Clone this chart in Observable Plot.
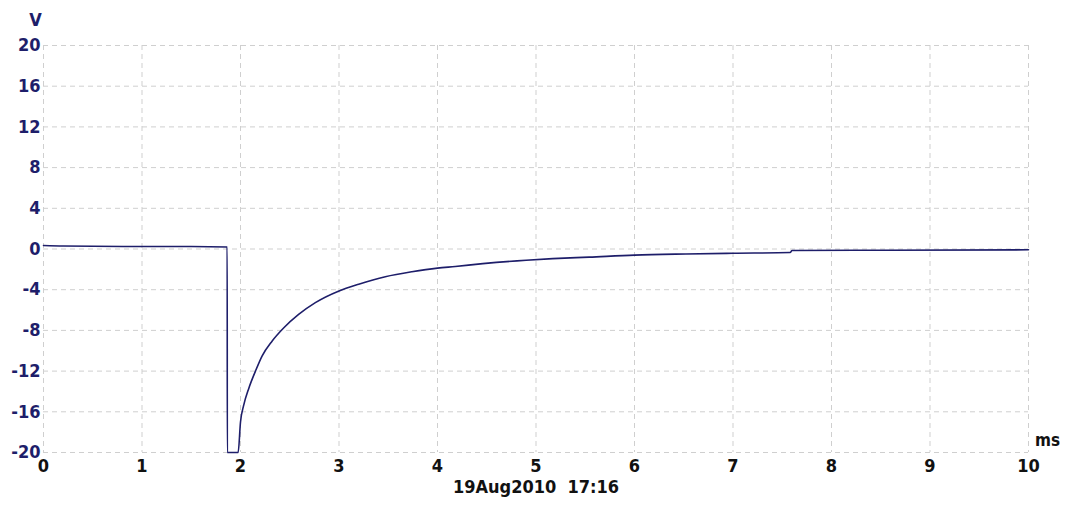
<!DOCTYPE html>
<html>
<head>
<meta charset="utf-8">
<script src="https://cdn.jsdelivr.net/npm/d3@7"></script>
<script src="https://cdn.jsdelivr.net/npm/@observablehq/plot@0.6"></script>
<style>
  html, body { margin: 0; padding: 0; background: #fff; }
</style>
</head>
<body>
<div id="chart"></div>
<script>
// Time (ms) and voltage (V)
const timeMs = [0, 0.2, 1.0, 1.5, 1.865, 1.866, 1.976, 2.0, 2.034, 2.084, 2.152, 2.22, 2.32, 2.44, 2.59, 2.76, 3.0, 3.2, 3.47, 3.74, 4.0, 4.18, 4.46, 4.9, 5.17, 5.54, 6.0, 6.52, 7.0, 7.58, 7.6, 8.5, 10.0];
const volts  = [0.35, 0.3, 0.25, 0.25, 0.2, -20, -20, -17.0, -15.3, -13.7, -12.0, -10.5, -9.06, -7.74, -6.43, -5.27, -4.12, -3.46, -2.73, -2.24, -1.88, -1.72, -1.44, -1.1, -0.95, -0.8, -0.6, -0.49, -0.42, -0.35, -0.15, -0.12, -0.08];
const xTicks = [0, 1, 2, 3, 4, 5, 6, 7, 8, 9, 10];
const yTicks = [20, 16, 12, 8, 4, 0, -4, -8, -12, -16, -20];
const yUnit = "V";
const xUnit = "ms";
const stamp = "19Aug2010  17:16";

const trace = timeMs.map((t, i) => ({t, v: volts[i]}));

const navy = "#1e1e6a";
const font = "'DejaVu Sans Condensed', 'DejaVu Sans', sans-serif";

const chart = Plot.plot({
  width: 1067,
  height: 514,
  marginLeft: 43,
  marginRight: 39,
  marginTop: 45,
  marginBottom: 62,
  style: {fontFamily: font, fontWeight: "bold", fontSize: "18px", background: "#fff", overflow: "visible"},
  x: {domain: [0, 10]},
  y: {domain: [-20, 20]},
  marks: [
    Plot.gridX(xTicks, {stroke: "#cfcfcf", strokeOpacity: 1, strokeDasharray: "5,4"}),
    Plot.gridY(yTicks, {stroke: "#cfcfcf", strokeOpacity: 1, strokeDasharray: "5,4"}),
    Plot.axisX(xTicks, {tickSize: 0, tickPadding: 7, label: null, fill: "#111", fontSize: 18, fontWeight: "bold", tickFormat: d => String(d)}),
    Plot.axisY(yTicks, {tickSize: 0, tickPadding: 3, label: null, fill: navy, fontSize: 18, fontWeight: "bold", tickFormat: d => String(d)}),
    Plot.line(trace, {x: "t", y: "v", stroke: navy, strokeWidth: 1.6, curve: "monotone-x"}),
    Plot.text([yUnit], {text: d => d, frameAnchor: "top-left", dx: -8, dy: -25, fill: navy, fontSize: 18, fontWeight: "bold", textAnchor: "middle", lineAnchor: "middle"}),
    Plot.text([xUnit], {text: d => d, frameAnchor: "bottom-right", dx: 19, dy: -12, fill: "#111", fontSize: 17, fontWeight: "bold", textAnchor: "middle", lineAnchor: "middle"}),
    Plot.text([stamp], {text: d => d, frameAnchor: "bottom", dy: 35, fill: "#111", fontSize: 18, fontWeight: "bold", textAnchor: "middle", lineAnchor: "middle"})
  ]
});
document.getElementById("chart").appendChild(chart);
</script>
</body>
</html>
